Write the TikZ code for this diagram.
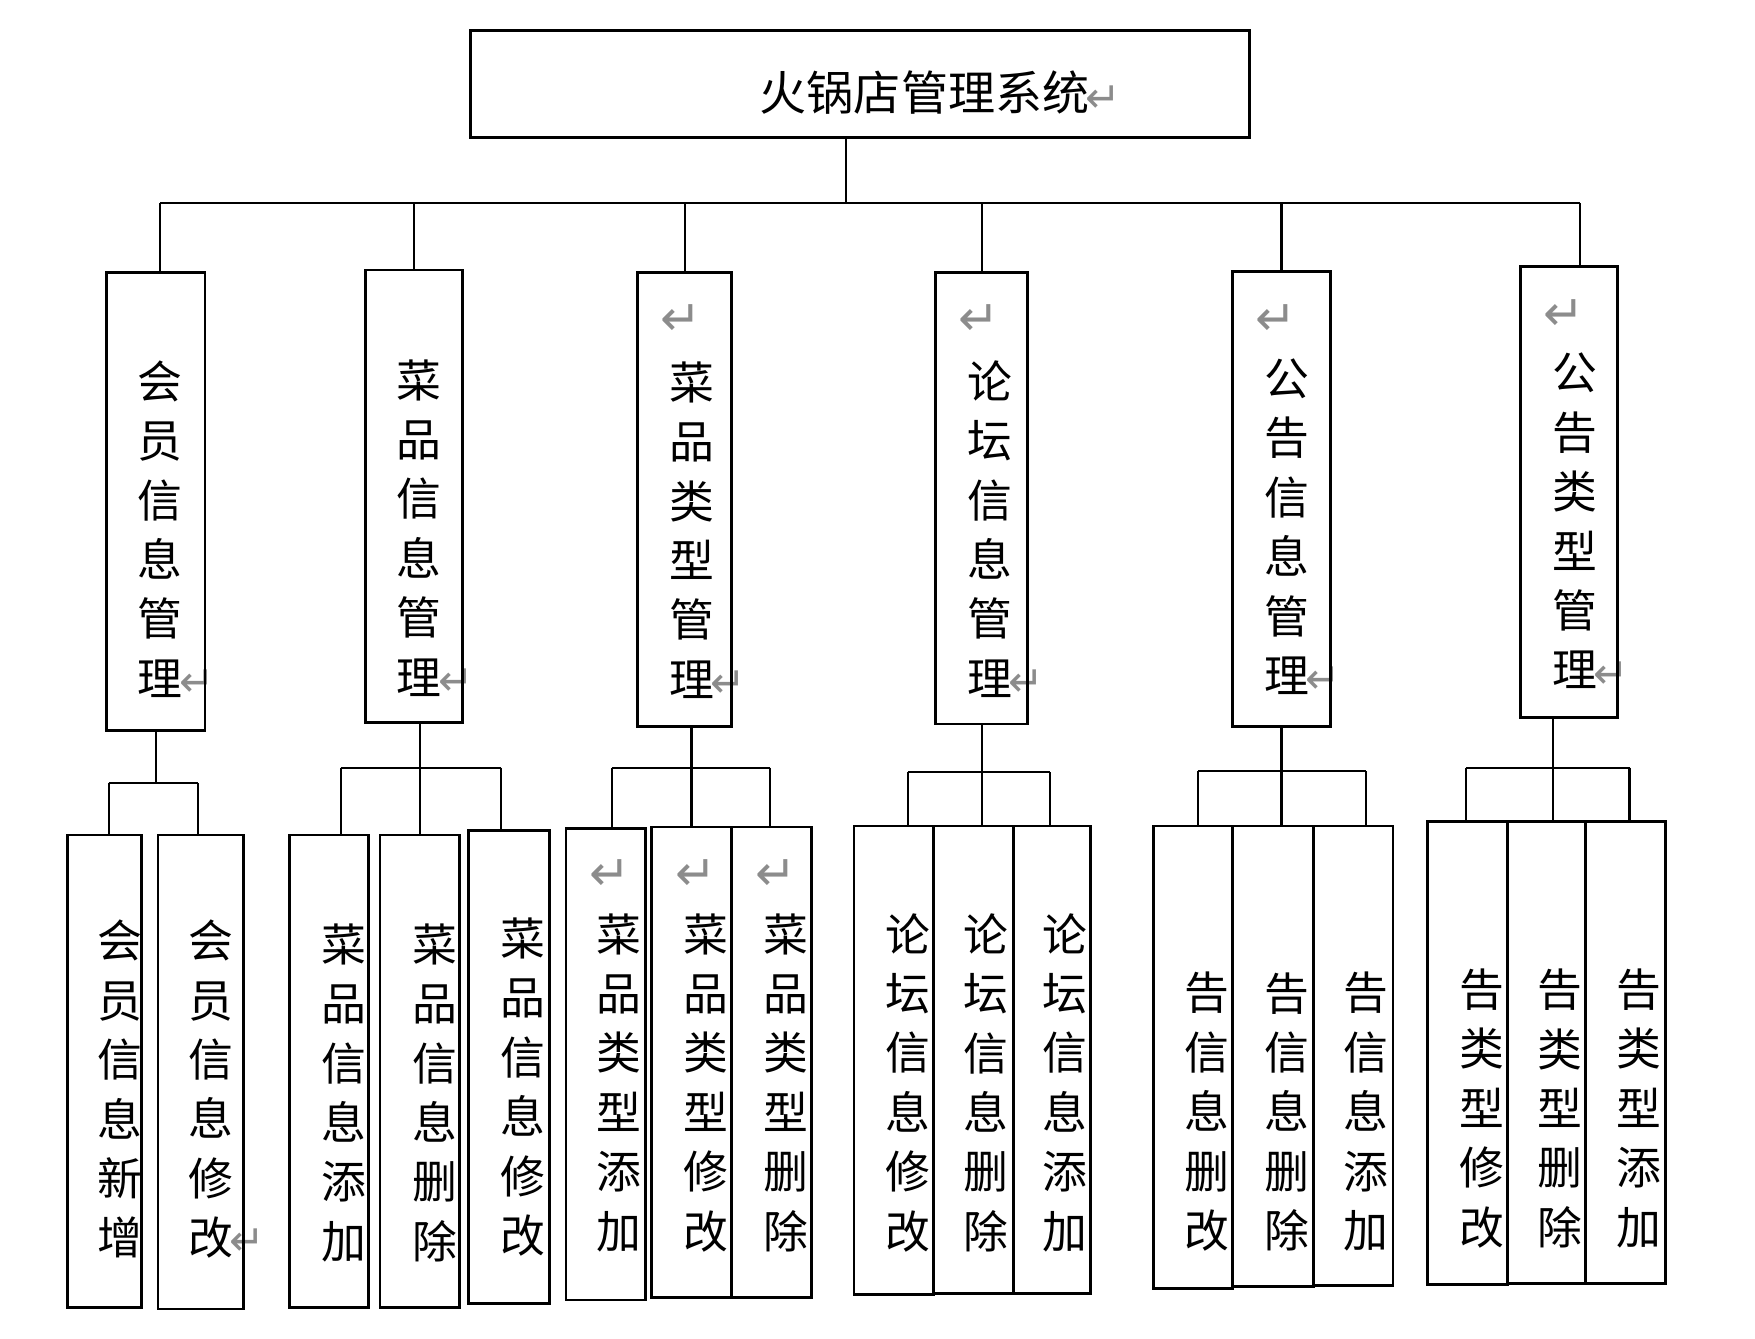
\documentclass[tikz,border=0pt]{standalone}
\usepackage{fontspec}
\newfontfamily\cjk{Noto Sans CJK SC}
\newfontfamily\symf{DejaVu Sans}
\newcommand\rmark{{\color{black!45}\symf\fontsize{38}{38}\selectfont ↵}}
\newcommand\rafter{\rlap{\kern-3pt\raisebox{-1pt}{\rmark}}}
\newcommand\mkbox[5]{\node[box, minimum width={(#4-#2)*1pt}, minimum height={(#5-#3)*1pt}] (#1) at ({(#2+#4)/2},{(#3+#5)/2}) {};}
\tikzset{
  box/.style={draw, line width=2.5pt, inner sep=0pt, outer sep=0pt},
  conn/.style={line width=2pt},
  vtext/.style={font=\cjk\fontsize{40}{53}\selectfont, align=center, inner sep=0pt},
  ttext/.style={font=\cjk\fontsize{42}{50}\selectfont, inner sep=0pt},
  retmark/.style={inner sep=0pt, font=\symf\fontsize{44}{44}\selectfont, text=black!45}
}
\begin{document}
\begin{tikzpicture}[x=1pt,y=-1pt]
\useasboundingbox (0,0) rectangle (1566,1194);
% ---------- texts ----------
\node[ttext] (tt) at (825,83) {火锅店管理系统\rafter};
% level 2
\node[vtext] (t1) at (143,472) {会\\员\\信\\息\\管\\理\rafter};
\node[vtext] (t2) at (374,471) {菜\\品\\信\\息\\管\\理\rafter};
\node[vtext] (t3) at (617,473) {菜\\品\\类\\型\\管\\理\rafter};
\node[vtext] (t4) at (883,472) {论\\坛\\信\\息\\管\\理\rafter};
\node[vtext] (t5) at (1148,470) {公\\告\\信\\息\\管\\理\rafter};
\node[vtext] (t6) at (1405,465) {公\\告\\类\\型\\管\\理\rafter};
\node[retmark] (r3) at (608,286) {↵};
\node[retmark] (r4) at (874,286) {↵};
\node[retmark] (r5) at (1139,286) {↵};
\node[retmark] (r6) at (1396,281) {↵};
% level 3
\node[vtext] (s11) at (107,972) {会\\员\\信\\息\\新\\增};
\node[vtext] (s12) at (188,972) {会\\员\\信\\息\\修\\改\rafter};
\node[vtext] (s21) at (307,975) {菜\\品\\信\\息\\添\\加};
\node[vtext] (s22) at (388,975) {菜\\品\\信\\息\\删\\除};
\node[vtext] (s23) at (467,970) {菜\\品\\信\\息\\修\\改};
\node[vtext] (s31) at (552,966) {菜\\品\\类\\型\\添\\加};
\node[vtext] (s32) at (630,966) {菜\\品\\类\\型\\修\\改};
\node[vtext] (s33) at (701,966) {菜\\品\\类\\型\\删\\除};
\node[retmark] (q31) at (544,781) {↵};
\node[retmark] (q32) at (621,781) {↵};
\node[retmark] (q33) at (693,781) {↵};
\node[vtext] (s41) at (810,966) {论\\坛\\信\\息\\修\\改};
\node[vtext] (s42) at (880,966) {论\\坛\\信\\息\\删\\除};
\node[vtext] (s43) at (950,966) {论\\坛\\信\\息\\添\\加};
\node[vtext] (s51) at (1077,992) {告\\信\\息\\删\\改};
\node[vtext] (s52) at (1148,992) {告\\信\\息\\删\\除};
\node[vtext] (s53) at (1219,992) {告\\信\\息\\添\\加};
\node[vtext] (s61) at (1322,989) {告\\类\\型\\修\\改};
\node[vtext] (s62) at (1392,989) {告\\类\\型\\删\\除};
\node[vtext] (s63) at (1462,989) {告\\类\\型\\添\\加};
% ---------- boxes ----------
\mkbox{top}{420}{27}{1115}{123}
\mkbox{b1}{95}{243}{183}{652}
\mkbox{b2}{326}{241}{413}{645}
\mkbox{b3}{569}{243}{653}{648}
\mkbox{b4}{835}{243}{917}{646}
\mkbox{b5}{1100}{242}{1187}{648}
\mkbox{b6}{1357}{238}{1443}{640}
\mkbox{c11}{60}{745}{126}{1167}
\mkbox{c12}{141}{745}{217}{1168}
\mkbox{c21}{258}{745}{329}{1167}
\mkbox{c22}{339}{745}{410}{1167}
\mkbox{c23}{418}{741}{490}{1163}
\mkbox{c31}{505}{739}{576}{1160}
\mkbox{c32}{581}{738}{653}{1158}
\mkbox{c33}{653}{738}{724}{1158}
\mkbox{c41}{762}{737}{833}{1155}
\mkbox{c42}{833}{737}{904}{1154}
\mkbox{c43}{904}{737}{973}{1154}
\mkbox{c51}{1029}{737}{1100}{1150}
\mkbox{c52}{1100}{737}{1172}{1148}
\mkbox{c53}{1172}{737}{1243}{1147}
\mkbox{c61}{1274}{733}{1345}{1146}
\mkbox{c62}{1345}{733}{1415}{1145}
\mkbox{c63}{1415}{733}{1486}{1145}
% ---------- connectors ----------
\coordinate (tj) at (755,181);
\coordinate (busL) at (143,181);
\coordinate (busR) at (1410,181);
\draw[conn] (tj |- top.south) -- (tj);
\draw[conn] (busL) -- (busR);
\draw[conn] (busL) -- (busL |- b1.north);
\draw[conn] (b2.north |- busL) -- (b2.north);
\draw[conn] (b3.north |- busL) -- (b3.north);
\draw[conn] (b4.north |- busL) -- (b4.north);
\draw[conn] (b5.north |- busL) -- (b5.north);
\draw[conn] (busR) -- (busR |- b6.north);
% group 1
\coordinate (g1l) at (97,699); \coordinate (g1r) at (177,699);
\draw[conn] (b1.south) -- (b1.south |- g1l);
\draw[conn] (g1l) -- (g1r);
\draw[conn] (g1l) -- (g1l |- c11.north);
\draw[conn] (g1r) -- (g1r |- c12.north);
% group 2
\coordinate (g2l) at (304,685); \coordinate (g2r) at (447,685);
\draw[conn] (c22.north |- b2.south) -- (c22.north);
\draw[conn] (g2l) -- (g2r);
\draw[conn] (g2l) -- (g2l |- c21.north);
\draw[conn] (g2r) -- (g2r |- c23.north);
% group 3
\coordinate (g3l) at (546,685); \coordinate (g3r) at (687,685);
\draw[conn] (c32.north |- b3.south) -- (c32.north);
\draw[conn] (g3l) -- (g3r);
\draw[conn] (g3l) -- (g3l |- c31.north);
\draw[conn] (g3r) -- (g3r |- c33.north);
% group 4
\coordinate (g4l) at (810,689); \coordinate (g4r) at (937,689);
\draw[conn] (b4.south) -- (b4.south |- c42.north);
\draw[conn] (g4l) -- (g4r);
\draw[conn] (g4l) -- (g4l |- c41.north);
\draw[conn] (g4r) -- (g4r |- c43.north);
% group 5
\coordinate (g5l) at (1069,688); \coordinate (g5r) at (1219,688);
\draw[conn] (b5.south) -- (b5.south |- c52.north);
\draw[conn] (g5l) -- (g5r);
\draw[conn] (g5l) -- (g5l |- c51.north);
\draw[conn] (g5r) -- (g5r |- c53.north);
% group 6
\coordinate (g6l) at (1308,685); \coordinate (g6r) at (1454,685); \coordinate (g6m) at (1386,685);
\draw[conn] (g6m |- b6.south) -- (g6m |- c62.north);
\draw[conn] (g6l) -- (g6r);
\draw[conn] (g6l) -- (g6l |- c61.north);
\draw[conn] (g6r) -- (g6r |- c63.north);
\end{tikzpicture}
\end{document}
